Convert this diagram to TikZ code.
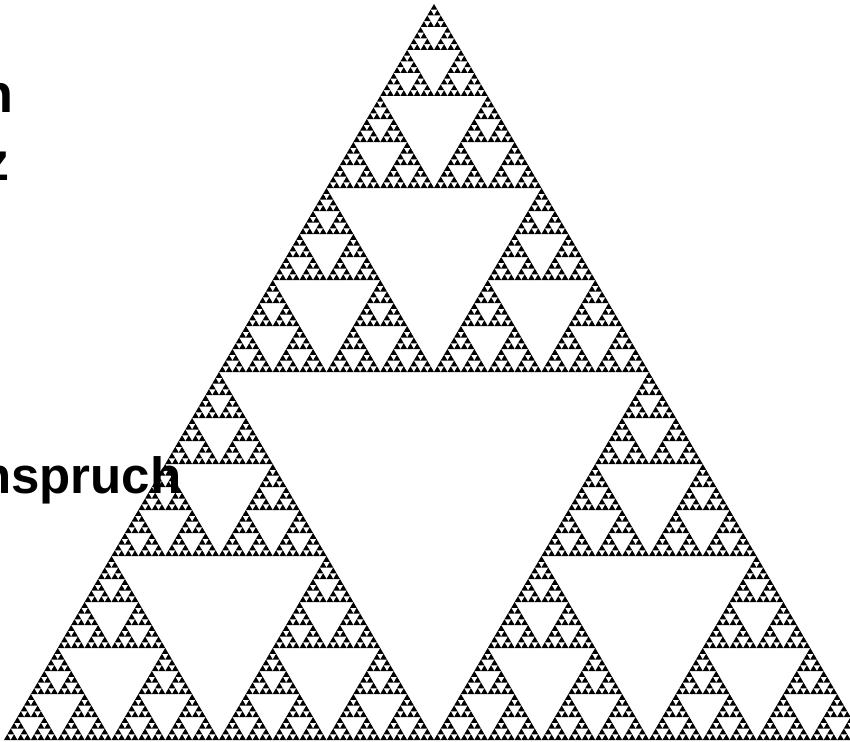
\documentclass[tikz,border=0pt]{standalone}
\usepackage{fontspec}
\setmainfont{Liberation Sans}
\newcommand\sierp[5]{% depth, apex x, apex y, base width, height
  \ifnum#1=0\relax
    \fill[sierfill] (#2,#3) -- ++({-(#4)/2},{#5}) -- ++({#4},0) -- cycle;
  \else
    \begingroup
    \pgfmathsetmacro\sw{(#4)/2}%
    \pgfmathsetmacro\sh{(#5)/2}%
    \pgfmathsetmacro\xl{#2-(#4)/4}%
    \pgfmathsetmacro\xr{#2+(#4)/4}%
    \pgfmathsetmacro\ym{#3+(#5)/2}%
    \pgfmathtruncatemacro\dd{#1-1}%
    \edef\sierpnext{\noexpand\sierp{\dd}{#2}{#3}{\sw}{\sh}\noexpand\sierp{\dd}{\xl}{\ym}{\sw}{\sh}\noexpand\sierp{\dd}{\xr}{\ym}{\sw}{\sh}}%
    \expandafter\endgroup\sierpnext
  \fi}
\tikzset{
  sierfill/.style={fill=black},
  bigtext/.style={inner sep=0pt, anchor=base west, text=black, font=\bfseries\fontsize{54}{60}\selectfont},
  midtext/.style={inner sep=0pt, anchor=base west, text=black, font=\bfseries\fontsize{51}{58}\selectfont}
}
\begin{document}
\begin{tikzpicture}[x=1pt,y=-1pt]
\useasboundingbox (0,0) rectangle (850,741);
\clip (0,0) rectangle (850,741);
\fill[white] (0,0) rectangle (850,741);
\sierp{7}{434}{4}{860}{736}
\node[bigtext] (t1) at (-20,112) {n};
\node[bigtext] (t2) at (-18,180) {z};
\node[midtext] (t3) at (-20,493) {nspruch};
\end{tikzpicture}
\end{document}
